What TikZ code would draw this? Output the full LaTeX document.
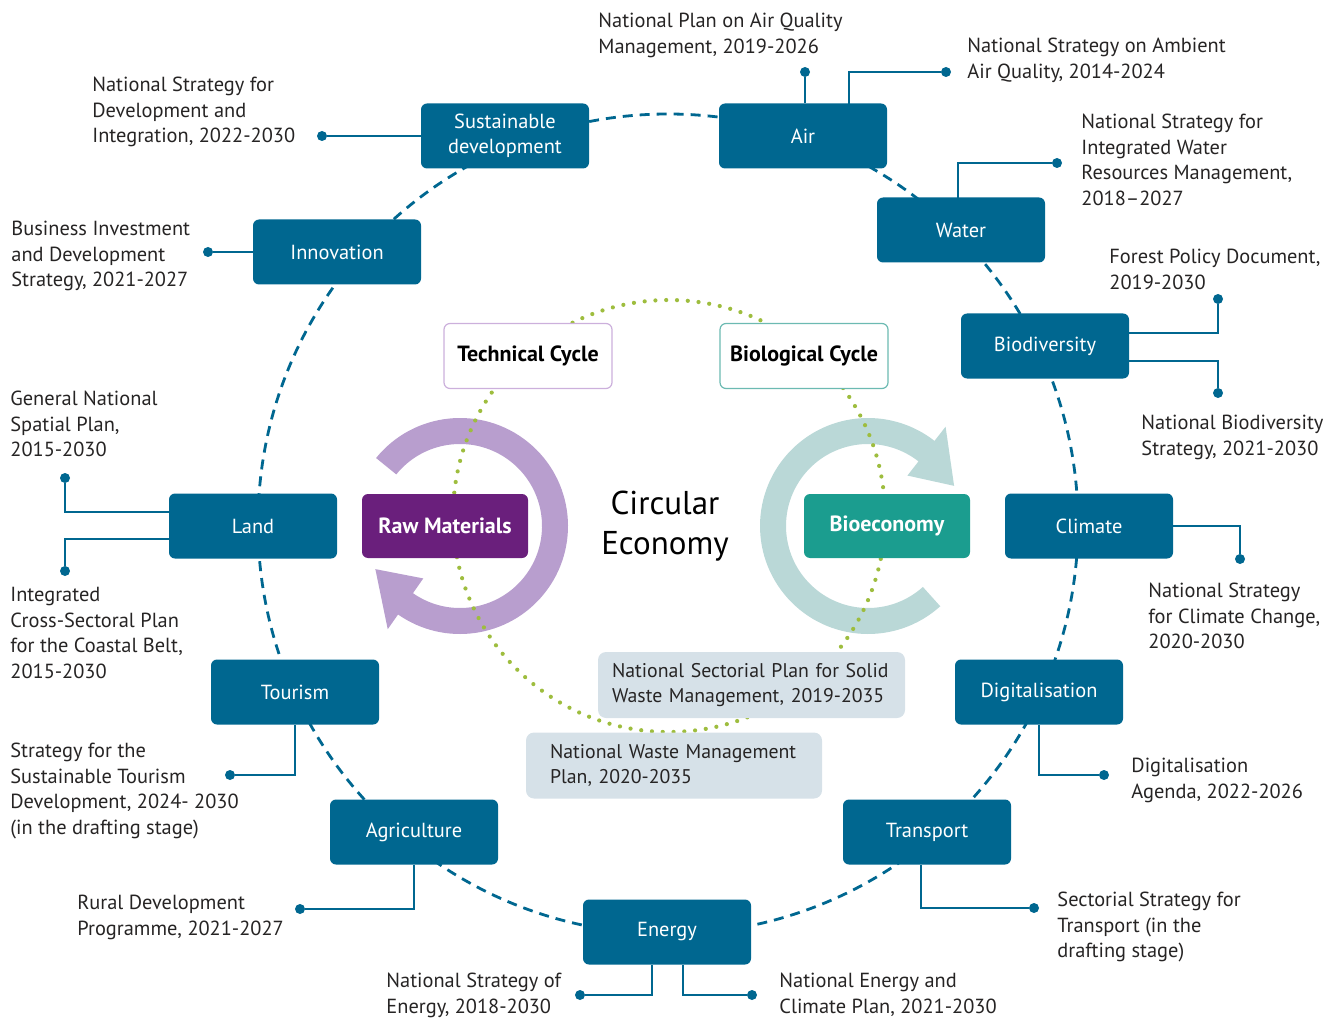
\documentclass[tikz,border=0pt]{standalone}
\usepackage{fontspec}
\setmainfont{PT Sans}
\usetikzlibrary{calc}

\definecolor{topicblue}{RGB}{0,103,144}
\definecolor{rawpurple}{RGB}{106,31,124}
\definecolor{bioteal}{RGB}{27,157,143}
\definecolor{ringpurple}{RGB}{184,158,206}
\definecolor{ringteal}{RGB}{186,216,215}
\definecolor{cyclegreen}{RGB}{158,189,62}
\definecolor{wastegrey}{RGB}{214,225,232}
\definecolor{techedge}{RGB}{204,176,220}
\definecolor{bioedge}{RGB}{108,186,178}
\definecolor{plaintext}{RGB}{38,36,36}

\begin{document}
\begin{tikzpicture}[x=0.5pt, y=-0.5pt,
	topic node/.style={fill=topicblue, rounded corners=3pt, minimum width=84pt, minimum height=32.5pt, inner sep=2pt, text=white, align=center, font=\fontsize{10.2}{12.5}\selectfont},
	cycle node/.style={fill=white, draw, line width=0.6pt, rounded corners=3pt, minimum width=84pt, minimum height=32.5pt, font=\bfseries\fontsize{11}{13}\selectfont},
	core node/.style={rounded corners=3pt, minimum width=83pt, minimum height=32pt, text=white, font=\bfseries\fontsize{11}{13}\selectfont},
	waste node/.style={fill=wastegrey, rounded corners=4pt, minimum height=33pt, inner ysep=2pt, align=left, text=plaintext, font=\fontsize{9.9}{12.75}\selectfont},
	plan text/.style={anchor=north west, inner sep=0pt, align=left, text=plaintext, font=\fontsize{10.2}{12.75}\selectfont},
	end dot/.style={circle, fill=topicblue, inner sep=0pt, minimum size=5pt},
	link/.style={topicblue, line width=0.8pt},
	ring/.style={draw=topicblue, line width=1.4pt, dash pattern=on 5pt off 3.5pt},
	cycle ring/.style={draw=cyclegreen, line width=2.1pt, dash pattern=on 0pt off 5.4pt, line cap=round}]

	\useasboundingbox (0,0) rectangle (1337,1021);

	\draw[ring] (668,524) circle (410);

	\coordinate (rawc) at (460,526);
	\coordinate (bioc) at (868,526);
	\fill[ringpurple] ($(rawc)+(219:108)$) arc[start angle=219, end angle=485, radius=108]
		-- ($(rawc)+(485:126)$) -- ($(rawc)+(513:95)$) -- ($(rawc)+(485:64)$)
		-- ($(rawc)+(485:82)$) arc[start angle=485, end angle=219, radius=82] -- cycle;
	\fill[ringteal] ($(bioc)+(48:108)$) arc[start angle=48, end angle=308, radius=108]
		-- ($(bioc)+(308:126)$) -- ($(bioc)+(335:95)$) -- ($(bioc)+(308:64)$)
		-- ($(bioc)+(308:82)$) arc[start angle=308, end angle=48, radius=82] -- cycle;

	\draw[cycle ring] (669,516) circle (216);

	\node[topic node] (sust) at (505,136) {Sustainable\\development};
	\node[topic node] (air) at (803,136) {Air};
	\node[topic node] (water) at (961,230) {Water};
	\node[topic node] (bio) at (1045,346) {Biodiversity};
	\node[topic node] (clim) at (1089,526) {Climate};
	\node[topic node] (digi) at (1039,692) {Digitalisation};
	\node[topic node] (trans) at (927,832) {Transport};
	\node[topic node] (energy) at (667,932) {Energy};
	\node[topic node] (agri) at (414,832) {Agriculture};
	\node[topic node] (tour) at (295,692) {Tourism};
	\node[topic node] (land) at (253,526) {Land};
	\node[topic node] (inno) at (337,252) {Innovation};

	\node[cycle node, draw=techedge] (tech) at (528,356) {Technical Cycle};
	\node[cycle node, draw=bioedge] (biocyc) at (804,356) {Biological Cycle};
	\node[core node, fill=rawpurple] (raw) at (445,526) {Raw Materials};
	\node[core node, fill=bioteal] (bioeco) at (887,526) {Bioeconomy};
	\node[align=center, text=black, font=\fontsize{16.5}{20}\selectfont] (circ) at (665,526) {Circular\\Economy};

	\node[waste node, text width=139.5pt, inner xsep=7pt] (wasteA) at (751.5,685) {National Sectorial Plan for Solid\\Waste Management, 2019-2035};
	\node[waste node, text width=124pt, inner xsep=12pt] (wasteB) at (674,765.5) {National Waste Management\\Plan, 2020-2035};

	\node[end dot] (dotSust) at (322,136) {};
	\node[end dot] (dotAirA) at (805,72) {};
	\node[end dot] (dotAirB) at (946,72) {};
	\node[end dot] (dotWater) at (1057,163) {};
	\node[end dot] (dotBioA) at (1218,299) {};
	\node[end dot] (dotBioB) at (1218,393) {};
	\node[end dot] (dotClim) at (1240,559) {};
	\node[end dot] (dotDigi) at (1104,775) {};
	\node[end dot] (dotTrans) at (1034,908) {};
	\node[end dot] (dotEnA) at (580,995) {};
	\node[end dot] (dotEnB) at (752,995) {};
	\node[end dot] (dotAgri) at (300,909) {};
	\node[end dot] (dotTour) at (230,775) {};
	\node[end dot] (dotLandA) at (65,478) {};
	\node[end dot] (dotLandB) at (65,571) {};
	\node[end dot] (dotInno) at (208,252) {};

	\coordinate (airJ) at (849,104);
	\coordinate (waterJ) at (958,198);
	\coordinate (bioJa) at (1129,333);
	\coordinate (bioJb) at (1129,361);
	\coordinate (transJ) at (921,865);
	\coordinate (enJa) at (652,965);
	\coordinate (enJb) at (683,965);
	\coordinate (landJa) at (169,512);
	\coordinate (landJb) at (169,539);

	\draw[link] (sust) -- (dotSust);
	\draw[link] (air.north -| dotAirA) -- (dotAirA);
	\draw[link] (airJ) |- (dotAirB);
	\draw[link] (waterJ) |- (dotWater);
	\draw[link] (bioJa) -| (dotBioA);
	\draw[link] (bioJb) -| (dotBioB);
	\draw[link] (clim) -| (dotClim);
	\draw[link] (digi) |- (dotDigi);
	\draw[link] (transJ) |- (dotTrans);
	\draw[link] (enJa) |- (dotEnA);
	\draw[link] (enJb) |- (dotEnB);
	\draw[link] (agri) |- (dotAgri);
	\draw[link] (tour) |- (dotTour);
	\draw[link] (landJa) -| (dotLandA);
	\draw[link] (landJb) -| (dotLandB);
	\draw[link] (inno) -- (dotInno);

	\node[plan text] (txtSust) at (92,77) {National Strategy for\\Development and\\Integration, 2022-2030};
	\node[plan text] (txtAirA) at (598,13) {National Plan on Air Quality\\Management, 2019-2026};
	\node[plan text] (txtAirB) at (967,38) {National Strategy on Ambient\\Air Quality, 2014-2024};
	\node[plan text] (txtWater) at (1081,114) {National Strategy for\\Integrated Water\\Resources Management,\\2018--2027};
	\node[plan text] (txtBioA) at (1109,249) {Forest Policy Document,\\2019-2030};
	\node[plan text] (txtBioB) at (1141,415) {National Biodiversity\\Strategy, 2021-2030};
	\node[plan text] (txtClim) at (1148,583) {National Strategy\\for Climate Change,\\2020-2030};
	\node[plan text] (txtDigi) at (1131,758) {Digitalisation\\Agenda, 2022-2026};
	\node[plan text] (txtTrans) at (1057,892) {Sectorial Strategy for\\Transport (in the\\drafting stage)};
	\node[plan text] (txtEnA) at (386,973) {National Strategy of\\Energy, 2018-2030};
	\node[plan text] (txtEnB) at (779,973) {National Energy and\\Climate Plan, 2021-2030};
	\node[plan text] (txtAgri) at (77,895) {Rural Development\\Programme, 2021-2027};
	\node[plan text] (txtTour) at (10,743) {Strategy for the\\Sustainable Tourism\\Development, 2024- 2030\\(in the drafting stage)};
	\node[plan text] (txtLandA) at (10,391) {General National\\Spatial Plan,\\2015-2030};
	\node[plan text] (txtLandB) at (10,587) {Integrated\\Cross-Sectoral Plan\\for the Coastal Belt,\\2015-2030};
	\node[plan text] (txtInno) at (11,221) {Business Investment\\and Development\\Strategy, 2021-2027};
\end{tikzpicture}
\end{document}
